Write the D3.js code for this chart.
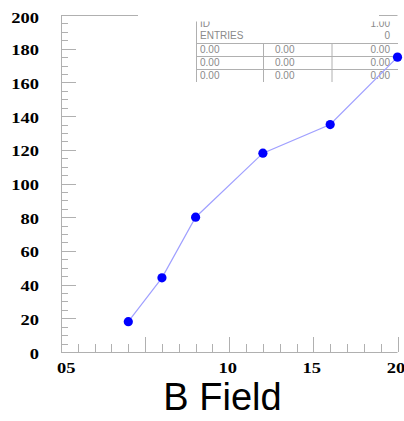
<!DOCTYPE html>
<html>
<head>
<meta charset="utf-8">
<script src="https://cdn.jsdelivr.net/npm/d3@7"></script>
<style>
  html, body { margin: 0; padding: 0; background: #fff; }
  svg { display: block; }
</style>
</head>
<body>
<script>
// B Field measurements
const bField = [4, 6, 8, 12, 16, 20];
const signal = [18, 44, 80, 118, 135, 175];

// axis labelling
const yTickValues = [0, 20, 40, 60, 80, 100, 120, 140, 160, 180, 200];
const yTickLabels = ["0", "20", "40", "60", "80", "100", "120", "140", "160", "180", "200"];
const xLabelValues = [0.4, 10, 15, 20];
const xTickLabels = ["05", "10", "15", "20"];
const xTitle = "B Field";

// statistics box contents
const statNames = ["ID", "ENTRIES"];
const statValues = ["1.00", "0"];
const statGrid = [
  ["0.00", "0.00", "0.00"],
  ["0.00", "0.00", "0.00"],
  ["0.00", "0.00", "0.00"]
];

const W = 404, H = 421;
const plotL = 61, plotR = 397.5, plotT = 15, plotB = 352;
const axisColor = "#b0b0b0";

const svg = d3.select("body").append("svg")
  .attr("width", W).attr("height", H);

const x = d3.scaleLinear().domain([0, 20]).range([plotL, plotR]);
const y = d3.scaleLinear().domain([0, 200]).range([plotB, plotT]);

// frame: left axis, bottom axis, top edge
const frame = svg.append("g").attr("stroke", axisColor).attr("stroke-width", 1).attr("fill", "none");
frame.append("line").attr("x1", plotL + 0.5).attr("x2", plotL + 0.5).attr("y1", plotT).attr("y2", plotB);
frame.append("line").attr("x1", plotL).attr("x2", plotR).attr("y1", plotB + 0.5).attr("y2", plotB + 0.5);
frame.append("line").attr("x1", plotL).attr("x2", plotR).attr("y1", plotT + 0.5).attr("y2", plotT + 0.5);

// y ticks: major every 20, minor every 5, pointing inward
d3.range(0, 201, 5).forEach(v => {
  const major = v % 20 === 0;
  const yy = Math.round(y(v)) + 0.5;
  frame.append("line")
    .attr("x1", plotL).attr("x2", plotL + (major ? 15 : 7))
    .attr("y1", yy).attr("y2", yy);
});

// x ticks: major every 5, minor every 1
d3.range(0, 21, 1).forEach(v => {
  const major = v % 5 === 0;
  const xx = Math.round(x(v)) + 0.5;
  frame.append("line")
    .attr("x1", xx).attr("x2", xx)
    .attr("y1", plotB).attr("y2", plotB - (major ? 15 : 8));
});

// tick labels, bold serif, slightly widened
const labelFont = "'Liberation Serif', 'Times New Roman', serif";
const stretch = 1.32;
yTickValues.forEach((v, i) => {
  const baseline = Math.max(y(v) + 6.5, 23.3);
  svg.append("text")
    .attr("transform", `translate(39,${baseline}) scale(${stretch},1)`)
    .attr("text-anchor", "end")
    .attr("font-family", labelFont)
    .attr("font-weight", "bold")
    .attr("font-size", 14)
    .attr("fill", "#000")
    .text(yTickLabels[i]);
});
xLabelValues.forEach((v, i) => {
  svg.append("text")
    .attr("transform", `translate(${x(v) - 1.6},372.5) scale(${stretch},1)`)
    .attr("text-anchor", "middle")
    .attr("font-family", labelFont)
    .attr("font-weight", "bold")
    .attr("font-size", 14)
    .attr("fill", "#000")
    .text(xTickLabels[i]);
});

// axis title
svg.append("text")
  .attr("x", 222.5).attr("y", 410)
  .attr("text-anchor", "middle")
  .attr("font-family", "'Liberation Sans', Arial, sans-serif")
  .attr("font-size", 38)
  .attr("fill", "#000")
  .text(xTitle);

// statistics box
const boxL = 196, boxR = 398, boxTop = 21.5, gridTop = 43, rowH = 13;
const colX = [263, 331.5];
const statColor = "#8a8a8a";
const statFont = "'Liberation Sans', Arial, sans-serif";

svg.append("rect")
  .attr("x", 138).attr("y", 8).attr("width", 379 - 138).attr("height", boxTop - 8 + 1)
  .attr("fill", "#fff");

svg.append("defs").append("clipPath").attr("id", "statsClip")
  .append("rect").attr("x", boxL - 2).attr("y", boxTop)
  .attr("width", boxR - boxL + 4).attr("height", gridTop + rowH * statGrid.length - boxTop + 2);

const stats = svg.append("g").attr("clip-path", "url(#statsClip)");
stats.append("rect")
  .attr("x", boxL).attr("y", boxTop - 10)
  .attr("width", boxR - boxL).attr("height", gridTop + rowH * statGrid.length - boxTop + 10)
  .attr("fill", "#fff");

const statLines = stats.append("g").attr("stroke", axisColor).attr("stroke-width", 1);
const gridBottom = gridTop + rowH * statGrid.length;
statLines.append("line").attr("x1", boxL + 0.5).attr("x2", boxL + 0.5).attr("y1", boxTop - 10).attr("y2", gridBottom);
colX.forEach(cx => statLines.append("line")
  .attr("x1", cx + 0.5).attr("x2", cx + 0.5).attr("y1", gridTop).attr("y2", gridBottom));
d3.range(statGrid.length).forEach(r => statLines.append("line")
  .attr("x1", boxL).attr("x2", boxR).attr("y1", gridTop + r * rowH + 0.5).attr("y2", gridTop + r * rowH + 0.5));

const statText = (g, tx, ty, anchor, s) => g.append("text")
  .attr("x", tx).attr("y", ty).attr("text-anchor", anchor)
  .attr("font-family", statFont).attr("font-size", 10).attr("fill", statColor)
  .text(s);

statNames.forEach((n, i) => {
  const ty = 27 + i * 12.3;
  statText(stats, 200, ty, "start", n);
  statText(stats, 390, ty, "end", statValues[i]);
});
statGrid.forEach((row, r) => {
  const ty = gridTop + r * rowH + 10;
  statText(stats, 200, ty, "start", row[0]);
  statText(stats, 275, ty, "start", row[1]);
  statText(stats, 390, ty, "end", row[2]);
});

// data: connecting line and markers
const pts = bField.map((b, i) => [b, signal[i]]);
const line = d3.line().x(d => x(d[0])).y(d => y(d[1]));
svg.append("path")
  .datum(pts)
  .attr("d", line)
  .attr("fill", "none")
  .attr("stroke", "#a0a0ff")
  .attr("stroke-width", 1.2);

svg.append("g").selectAll("circle")
  .data(pts)
  .join("circle")
  .attr("cx", d => x(d[0]))
  .attr("cy", d => y(d[1]))
  .attr("r", 4.6)
  .attr("fill", "#0000ff");
</script>
</body>
</html>
